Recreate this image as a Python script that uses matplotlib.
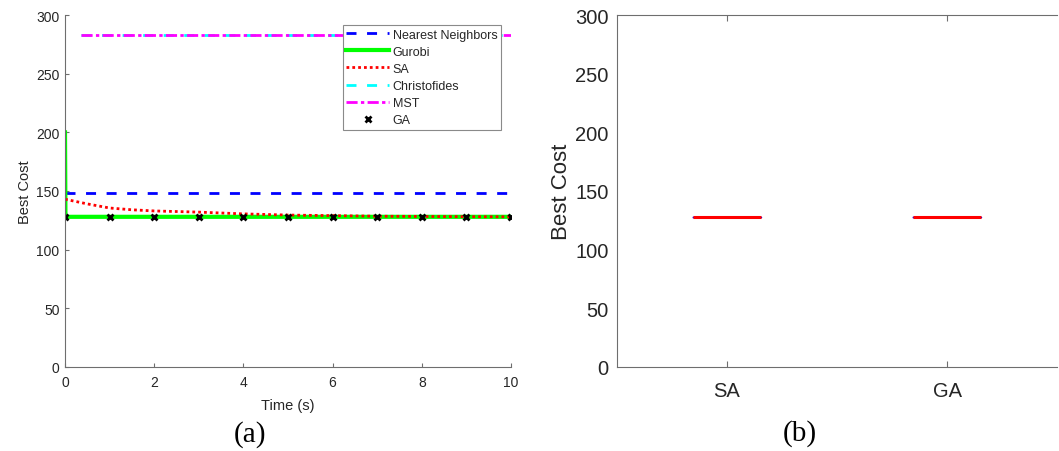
import matplotlib
matplotlib.use('Agg')
import matplotlib.pyplot as plt
import numpy as np

# data
nn_t = [0, 10]
nn_cost = [148, 148]
gurobi_t = [0, 0.01, 10]
gurobi_cost = [200, 128, 128]
sa_t = [0, 0.5, 1, 1.5, 2, 2.5, 3, 4, 5, 6, 7, 8, 9, 10]
sa_cost = [143, 139, 135.5, 134, 133, 132.5, 132, 130.5, 129.5, 129, 128.5, 128.3, 128.1, 128]
chr_t = [0.35, 10]
chr_cost = [283, 283]
mst_t = [0.35, 10]
mst_cost = [283, 283]
ga_t = [0, 1, 2, 3, 4, 5, 6, 7, 8, 9, 10]
ga_cost = [128, 128, 128, 128, 128, 128, 128, 128, 128, 128, 128]

box_labels = ['SA', 'GA']
box_sa = [128, 128, 128, 128, 128]
box_ga = [128, 128, 128, 128, 128]

plt.rcParams['font.family'] = ['Liberation Sans', 'DejaVu Sans']
axcol = '#6e6e6e'
txtcol = '#262626'

fig = plt.figure(figsize=(10.59, 4.52), dpi=100)

# ---- (a) ----
ax = fig.add_axes([65/1059, 84/452, 446/1059, 352/452])
ax.plot(nn_t, nn_cost, color='#0000ff', lw=2, dashes=(3.6, 3.8), label='Nearest Neighbors')
ax.plot(gurobi_t, gurobi_cost, color='#00ff00', lw=3, label='Gurobi')
ax.plot(sa_t, sa_cost, color='#ff0000', lw=2, dashes=(1, 1.1), label='SA')
ax.plot(chr_t, chr_cost, color='#00ffff', lw=2, dashes=(3.6, 3.8), label='Christofides')
ax.plot(mst_t, mst_cost, color='#ff00ff', lw=2, dashes=(4, 1.2, 1.2, 1.2), label='MST')
ax.plot(ga_t, ga_cost, 'x', color='k', ms=5, mew=2, label='GA')

ax.set_xlim(0, 10)
ax.set_ylim(0, 300)
ax.set_xticks([0, 2, 4, 6, 8, 10])
ax.set_yticks([0, 50, 100, 150, 200, 250, 300])
ax.spines['top'].set_visible(False)
ax.spines['right'].set_visible(False)
for s in ['left', 'bottom']:
    ax.spines[s].set_color(axcol)
    ax.spines[s].set_linewidth(0.8)
ax.tick_params(direction='in', length=3, width=0.8, color=axcol, labelcolor=txtcol, labelsize=10)
ax.tick_params(axis='x', pad=6)
ax.tick_params(axis='y', pad=4)
ax.set_xlabel('Time (s)', fontsize=10.5, color=txtcol, labelpad=6)
ax.set_ylabel('Best Cost', fontsize=10.5, color=txtcol, labelpad=3)
leg = ax.legend(loc='upper right', bbox_to_anchor=(0.978, 0.972), borderaxespad=0, fontsize=9,
                handlelength=3.4, labelspacing=0.41, fancybox=False, framealpha=1,
                handletextpad=0.3, borderpad=0.3)
leg.get_frame().set_edgecolor('#8a8a8a')
leg.get_frame().set_linewidth(0.8)
for t in leg.get_texts():
    t.set_color(txtcol)

# ---- (b) ----
bx = fig.add_axes([617/1059, 84/452, 440/1059, 352/452])
bx.boxplot([box_sa, box_ga], positions=[1, 2], widths=0.31, whis=1.5,
           boxprops=dict(color='#0000ff', lw=1),
           medianprops=dict(color='#ff0000', lw=2.2),
           whiskerprops=dict(color='k', lw=1, ls='--'),
           capprops=dict(color='k', lw=1),
           flierprops=dict(marker='+', markeredgecolor='r'))
bx.set_xlim(0.5, 2.5)
bx.set_ylim(0, 300)
bx.set_xticks([1, 2])
bx.set_xticklabels(box_labels)
bx.set_yticks([0, 50, 100, 150, 200, 250, 300])
bx.spines['right'].set_visible(False)
for s in ['left', 'bottom', 'top']:
    bx.spines[s].set_color(axcol)
    bx.spines[s].set_linewidth(0.8)
bx.tick_params(direction='in', length=4, width=0.8, color=axcol, labelcolor=txtcol, labelsize=14.5,
               top=True, left=False)
bx.tick_params(axis='x', pad=10)
bx.tick_params(axis='y', pad=6)
bx.set_ylabel('Best Cost', fontsize=16, color=txtcol, labelpad=2)

fig.text(250/1059, 1 - 435/452, '(a)', family='Liberation Serif', fontsize=21, ha='center', va='center')
fig.text(800/1059, 1 - 434/452, '(b)', family='Liberation Serif', fontsize=21, ha='center', va='center')

fig.savefig('out.png', dpi=100)
